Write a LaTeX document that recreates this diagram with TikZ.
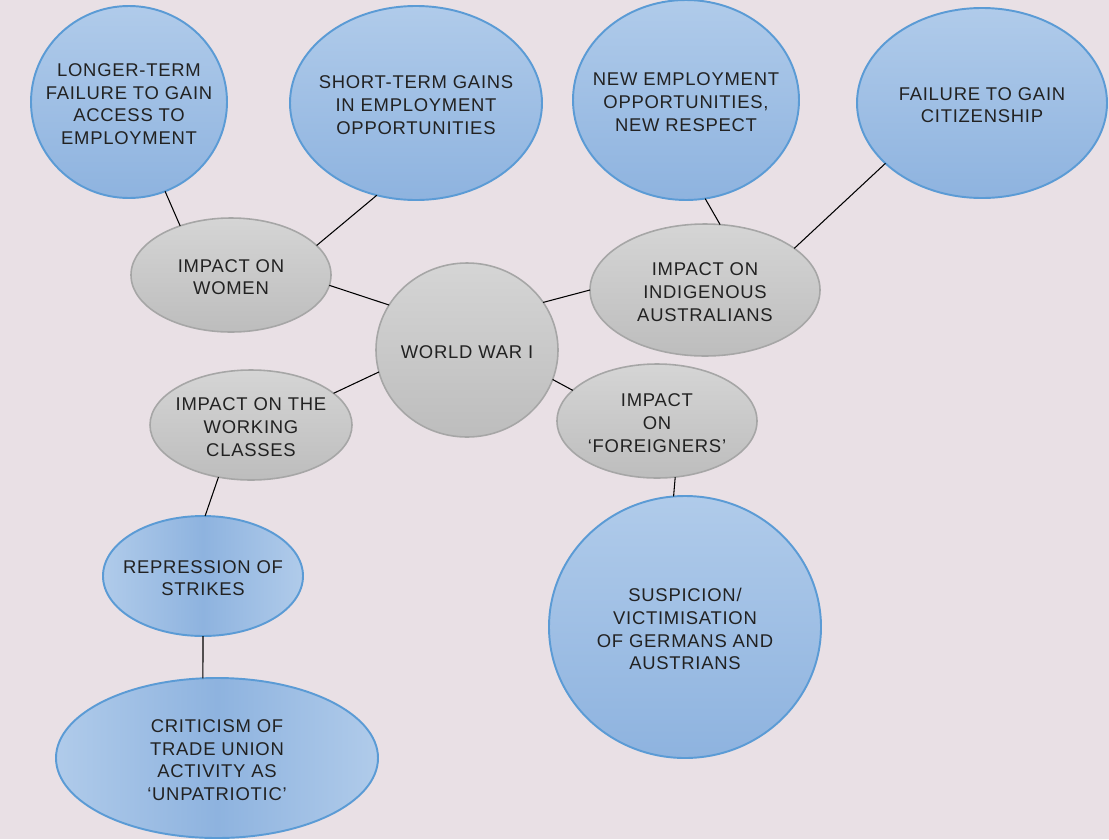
\documentclass[tikz,border=0pt]{standalone}
\usepackage{fontspec}
\setmainfont{Liberation Sans}[LetterSpace=4]
\usetikzlibrary{shapes.geometric}

\definecolor{paper}{HTML}{E9E0E5}
\definecolor{bluerim}{HTML}{5B9BD5}
\definecolor{bluetop}{HTML}{B0CBEA}
\definecolor{bluebot}{HTML}{8EB3DF}
\definecolor{greyrim}{HTML}{A6A6A6}
\definecolor{greytop}{HTML}{D5D5D5}
\definecolor{greybot}{HTML}{BDBDBD}
\definecolor{ink}{HTML}{222222}

\tikzset{
  blob/.style 2 args={ellipse, inner sep=0pt, outer sep=0pt,
    minimum width={2*#1*0.02cm}, minimum height={2*#2*0.02cm}},
  bluev/.style={draw=bluerim, line width=1.1pt,
    top color=bluetop, bottom color=bluebot},
  blueh/.style={draw=bluerim, line width=1.1pt,
    left color=bluetop, right color=bluetop, middle color=bluebot},
  greyv/.style={draw=greyrim, line width=0.9pt,
    top color=greytop, bottom color=greybot},
  blobtext/.style={align=center, text=ink, inner sep=0pt, yshift=-1.3pt,
    font=\fontsize{10.5}{12.9}\selectfont},
  link/.style={draw=black, line width=0.6pt}
}

\begin{document}
\begin{tikzpicture}[x=0.02cm, y=-0.02cm]
  % page
  \fill[paper] (0,0) rectangle (1109,839);
  \useasboundingbox (0,0) rectangle (1109,839);

  % outer (blue) bubbles
  \node[blob={98}{96}, bluev] (lt) at (129,102) {};
  \node[blobtext] (lt-t) at (lt) {LONGER-TERM\\FAILURE TO GAIN\\ACCESS TO\\EMPLOYMENT};

  \node[blob={126}{97}, bluev] (st) at (416,103) {};
  \node[blobtext] (st-t) at (st) {SHORT-TERM GAINS\\IN EMPLOYMENT\\OPPORTUNITIES};

  \node[blob={113}{100}, bluev] (ne) at (686,100) {};
  \node[blobtext] (ne-t) at (ne) {NEW EMPLOYMENT\\OPPORTUNITIES,\\NEW RESPECT};

  \node[blob={125}{95}, bluev] (fg) at (982,103) {};
  \node[blobtext] (fg-t) at (fg) {FAILURE TO GAIN\\CITIZENSHIP};

  \node[blob={100}{60}, blueh] (rep) at (203,576) {};
  \node[blobtext] (rep-t) at (rep) {REPRESSION OF\\STRIKES};

  \node[blob={161}{80}, blueh] (crit) at (217,758) {};
  \node[blobtext] (crit-t) at (crit) {CRITICISM OF\\TRADE UNION\\ACTIVITY AS\\‘UNPATRIOTIC’};

  \node[blob={136}{131}, bluev] (sus) at (685,627) {};
  \node[blobtext] (sus-t) at (sus) {SUSPICION/\\VICTIMISATION\\OF GERMANS AND\\AUSTRIANS};

  % inner (grey) bubbles
  \node[blob={91}{87}, greyv] (wwi) at (467,350) {};
  \node[blobtext] (wwi-t) at (wwi) {WORLD WAR I};

  \node[blob={100}{57}, greyv] (women) at (231,275) {};
  \node[blobtext] (women-t) at (women) {IMPACT ON\\WOMEN};

  \node[blob={115}{66}, greyv] (ind) at (705,290) {};
  \node[blobtext] (ind-t) at (ind) {IMPACT ON\\INDIGENOUS\\AUSTRALIANS};

  \node[blob={101}{55}, greyv] (work) at (251,425) {};
  \node[blobtext] (work-t) at (work) {IMPACT ON THE\\WORKING\\CLASSES};

  \node[blob={100}{57}, greyv] (for) at (657,421) {};
  \node[blobtext] (for-t) at (for) {IMPACT\\ON\\‘FOREIGNERS’};

  % connectors
  \draw[link] (lt.-68)   -- (women.136);
  \draw[link] (st.-113)  -- (women.19);
  \draw[link] (women.-6) -- (wwi.150);
  \draw[link] (wwi.32)   -- (ind.180);
  \draw[link] (ne.-79)   -- (ind.77);
  \draw[link] (fg.-148)  -- (ind.25);
  \draw[link] (wwi.-166) -- (work.21);
  \draw[link] (wwi.-19)  -- (for.160);
  \draw[link] (work.-122) -- (rep.88);
  \draw[link] (rep.-90)  -- (crit.100);
  \draw[link] (for.-72)  -- (sus.95);
\end{tikzpicture}
\end{document}
